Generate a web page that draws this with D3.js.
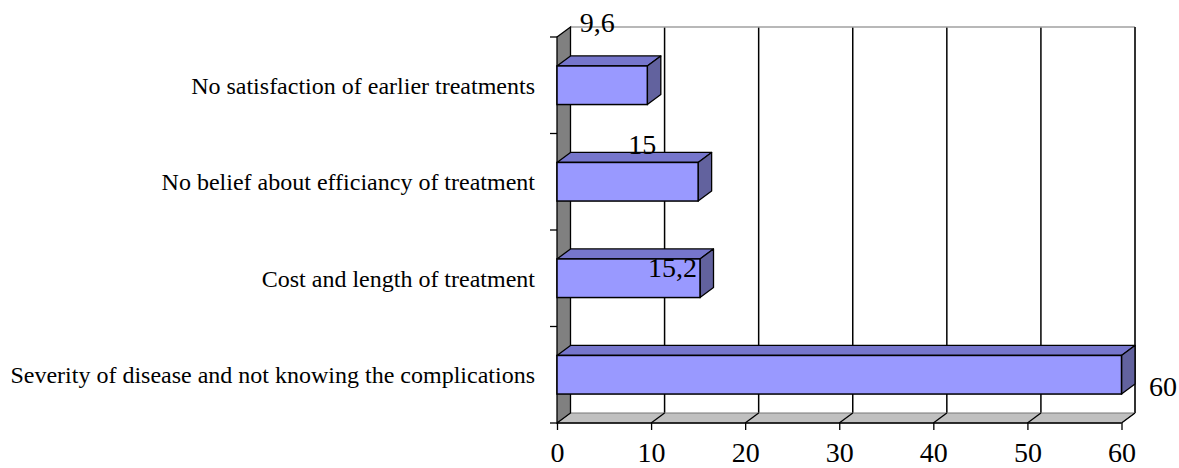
<!DOCTYPE html>
<html>
<head>
<meta charset="utf-8">
<script src="https://cdn.jsdelivr.net/npm/d3@7/dist/d3.min.js"></script>
<style>
  html, body { margin: 0; padding: 0; background: #fff; }
  svg, svg text { font-family: "Times New Roman", "Liberation Serif", "DejaVu Serif", serif; }
</style>
</head>
<body>
<svg id="chart" width="1179" height="468"></svg>
<script>
// Reasons given, top to bottom
const categories = [
  "No satisfaction of earlier treatments",
  "No belief about efficiancy of treatment",
  "Cost and length of treatment",
  "Severity of disease and not knowing the complications"
];
const values = [9.6, 15, 15.2, 60];
const valueLabels = ["9,6", "15", "15,2", "60"];
const xTicks = [0, 10, 20, 30, 40, 50, 60];

const FONT = "'Times New Roman', 'Liberation Serif', 'DejaVu Serif', serif";

// Layout of the 3-D box
const front = { left: 557, right: 1121.5, top: 37, bottom: 423 };
const depth = { dx: 13.5, dy: -10 };

const colors = {
  barFront: "#9999FF",
  barTop: "#7676CC",
  barSide: "#62629E",
  sideWall: "#808080",
  floor: "#C0C0C0"
};

// Where each value label sits relative to its bar (dx from bar end, dy from bar top)
const labelNudge = [
  { dx: -50, dy: -34, anchor: "middle" },
  { dx: -56, dy: -8, anchor: "middle" },
  { dx: -3, dy: 18.5, anchor: "end" },
  { dx: 27.5, dy: 41, anchor: "start" }
];

const svg = d3.select("#chart").attr("font-family", FONT);

const x = d3.scaleLinear().domain([0, 60]).range([front.left, front.right]);
const y = d3.scaleBand().domain(categories)
  .range([front.top, front.bottom])
  .paddingInner(0.6).paddingOuter(0.3);
const yEdge = d3.scaleBand().domain(categories)
  .range([front.top, front.bottom]).padding(0);

const back = v => x(v) + depth.dx;
const backTop = front.top + depth.dy;
const backBottom = front.bottom + depth.dy;
const poly = pts => "M" + pts.map(p => p.join(",")).join("L") + "Z";

// Back wall grid lines
svg.append("g").selectAll("line")
  .data(xTicks.filter(t => t > 0 && t < 60))
  .join("line")
  .attr("x1", d => back(d)).attr("x2", d => back(d))
  .attr("y1", backTop).attr("y2", backBottom)
  .attr("stroke", "#000").attr("stroke-width", 1.5);

// Back wall top edge and right edge
svg.append("line")
  .attr("x1", back(0)).attr("x2", back(60))
  .attr("y1", backTop).attr("y2", backTop)
  .attr("stroke", "#a0a0a0").attr("stroke-width", 1.5);
svg.append("line")
  .attr("x1", back(60)).attr("x2", back(60))
  .attr("y1", backTop).attr("y2", backBottom)
  .attr("stroke", "#333").attr("stroke-width", 2);

// Floor
svg.append("path")
  .attr("d", poly([[x(0), front.bottom], [x(60), front.bottom], [back(60), backBottom], [back(0), backBottom]]))
  .attr("fill", colors.floor).attr("stroke", "#777").attr("stroke-width", 1);
svg.append("g").selectAll("line")
  .data(xTicks.filter(t => t > 0))
  .join("line")
  .attr("x1", d => x(d)).attr("x2", d => back(d))
  .attr("y1", front.bottom).attr("y2", backBottom)
  .attr("stroke", "#000").attr("stroke-width", 1.3);

// Left side wall
svg.append("path")
  .attr("d", poly([[x(0), front.top], [back(0), backTop], [back(0), backBottom], [x(0), front.bottom]]))
  .attr("fill", colors.sideWall).attr("stroke", "#000").attr("stroke-width", 1.3);

// Front axis line along the floor
svg.append("line")
  .attr("x1", x(0)).attr("x2", x(60))
  .attr("y1", front.bottom).attr("y2", front.bottom)
  .attr("stroke", "#000").attr("stroke-width", 1.3);

// Value axis ticks and labels
const xAxis = d3.axisBottom(x).tickValues(xTicks).tickSize(7).tickPadding(12).tickFormat(d3.format("d"));
const gx = svg.append("g").attr("transform", `translate(0,${front.bottom})`).call(xAxis)
  .attr("font-family", FONT);
gx.select(".domain").remove();
gx.selectAll(".tick line").attr("stroke", "#000").attr("stroke-width", 1.3);
gx.selectAll(".tick text")
  .attr("font-family", FONT)
  .attr("font-size", 28).attr("fill", "#000");

// Category ticks on the left axis
const edges = categories.map(c => yEdge(c)).concat([front.bottom]);
svg.append("g").selectAll("line")
  .data(edges)
  .join("line")
  .attr("x1", x(0) - 7).attr("x2", x(0))
  .attr("y1", d => d).attr("y2", d => d)
  .attr("stroke", "#000").attr("stroke-width", 1.3);

// Category labels
svg.append("g").selectAll("text")
  .data(categories)
  .join("text")
  .attr("x", 535)
  .attr("y", d => yEdge(d) + yEdge.bandwidth() / 2)
  .attr("dy", "0.35em")
  .attr("text-anchor", "end")
  .attr("font-family", FONT)
  .attr("font-size", 24)
  .attr("fill", "#000")
  .text(d => d);

// 3-D bars
const bars = svg.append("g").selectAll("g")
  .data(categories.map((c, i) => ({ c, v: values[i], i })))
  .join("g");

bars.append("path") // top face
  .attr("d", d => {
    const t = y(d.c);
    return poly([[x(0), t], [back(0), t + depth.dy], [back(d.v), t + depth.dy], [x(d.v), t]]);
  })
  .attr("fill", colors.barTop).attr("stroke", "#000").attr("stroke-width", 1.3).attr("stroke-linejoin", "round");

bars.append("path") // right end face
  .attr("d", d => {
    const t = y(d.c), b = t + y.bandwidth();
    return poly([[x(d.v), t], [back(d.v), t + depth.dy], [back(d.v), b + depth.dy], [x(d.v), b]]);
  })
  .attr("fill", colors.barSide).attr("stroke", "#000").attr("stroke-width", 1.3).attr("stroke-linejoin", "round");

bars.append("rect") // front face
  .attr("x", x(0))
  .attr("y", d => y(d.c))
  .attr("width", d => x(d.v) - x(0))
  .attr("height", y.bandwidth())
  .attr("fill", colors.barFront).attr("stroke", "#000").attr("stroke-width", 1.5);

// Value labels
svg.append("g").selectAll("text")
  .data(categories.map((c, i) => ({ c, v: values[i], i })))
  .join("text")
  .attr("x", d => x(d.v) + labelNudge[d.i].dx)
  .attr("y", d => y(d.c) + labelNudge[d.i].dy)
  .attr("text-anchor", d => labelNudge[d.i].anchor)
  .attr("font-family", FONT)
  .attr("font-size", 28)
  .attr("fill", "#000")
  .text(d => valueLabels[d.i]);
</script>
</body>
</html>
